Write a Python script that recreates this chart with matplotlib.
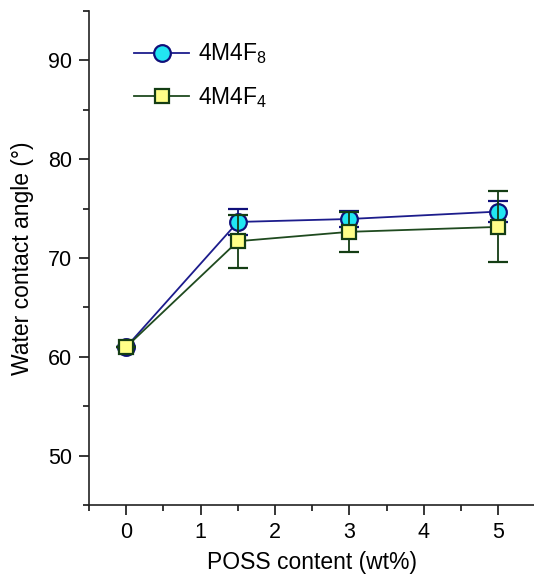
import matplotlib.pyplot as plt
from matplotlib.ticker import MultipleLocator

plt.rcParams['font.family'] = ['Liberation Sans', 'DejaVu Sans']
plt.rcParams['mathtext.fontset'] = 'custom'
plt.rcParams['mathtext.rm'] = 'Liberation Sans'
plt.rcParams['mathtext.it'] = 'Liberation Sans'

poss = [0, 1.5, 3, 5]
f8 = [61.0, 73.65, 73.95, 74.7]
f8_err = [0, 1.3, 0.85, 1.05]
f4 = [61.0, 71.7, 72.65, 73.15]
f4_err = [0, 2.7, 2.0, 3.6]
labels = ["4M4F$_8$", "4M4F$_4$"]

fig = plt.figure(figsize=(5.34, 5.74), dpi=100)
ax = fig.add_axes([0.1667, 0.1202, 0.8333, 0.8606])

st8 = dict(color='#1c1c8c', lw=1.3, marker='o', ms=12, mfc='#22e6f2', mec='#10107a', mew=1.6)
st4 = dict(color='#1f4a1f', lw=1.3, marker='s', ms=10.5, mfc='#ffff88', mec='#143d14', mew=1.6)

ax.errorbar(poss, f8, yerr=f8_err, ecolor='#10107a', elinewidth=1.3,
            capsize=7, capthick=1.3, zorder=3, **st8)
ax.errorbar(poss, f4, yerr=f4_err, ecolor='#143d14', elinewidth=1.3,
            capsize=7, capthick=1.3, zorder=4, **st4)
h8, = ax.plot([], [], **st8)
h4, = ax.plot([], [], **st4)

ax.set_xlim(-0.5, 5.48)
ax.set_ylim(45, 95)
ax.xaxis.set_major_locator(MultipleLocator(1))
ax.xaxis.set_minor_locator(MultipleLocator(0.5))
ax.yaxis.set_minor_locator(MultipleLocator(5))
ax.set_yticks([50, 60, 70, 80, 90])

for s in ['top', 'right']:
    ax.spines[s].set_visible(False)
for s in ['left', 'bottom']:
    ax.spines[s].set_linewidth(1.2)
    ax.spines[s].set_color('#222222')

ax.tick_params(which='major', direction='out', length=7, width=1.1, labelsize=15.5, pad=5)
ax.tick_params(which='minor', direction='out', length=4, width=1.1)

ax.set_xlabel("POSS content (wt%)", fontsize=16.5, labelpad=6)
ax.set_ylabel("Water contact angle (°)", fontsize=16.5, labelpad=10)

ax.legend([h8, h4], labels, loc='upper left', bbox_to_anchor=(0.055, 0.98), frameon=False,
          fontsize=16.5, handlelength=2.4, labelspacing=0.8, handletextpad=0.4)

fig.savefig("out.png", dpi=100)
